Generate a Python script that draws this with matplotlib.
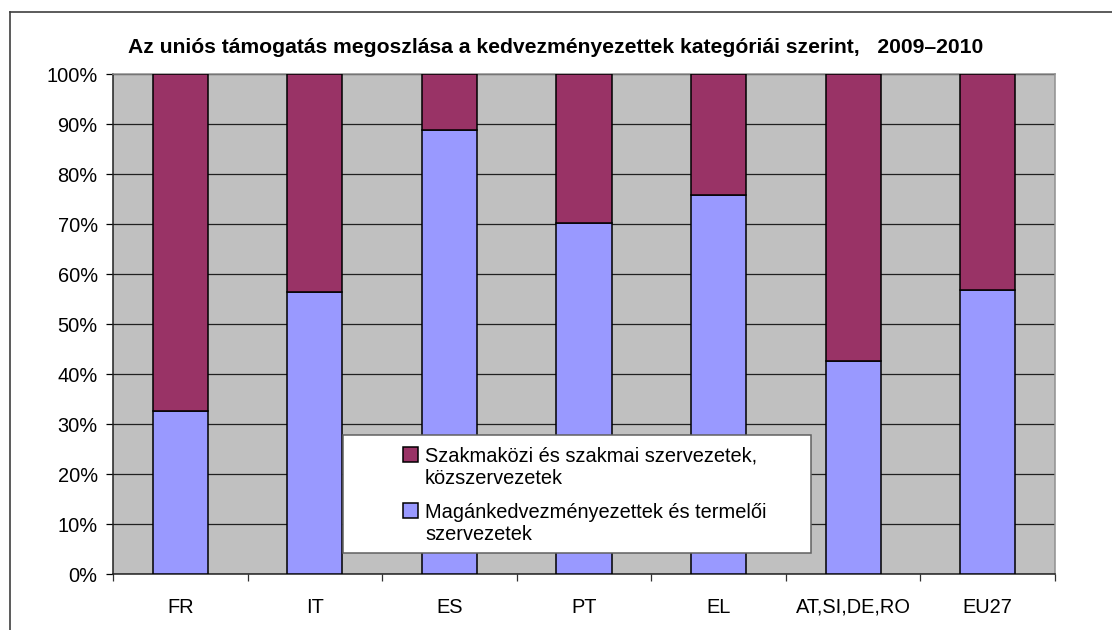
import matplotlib
matplotlib.use("Agg")
import matplotlib.pyplot as plt
import numpy as np
from matplotlib.patches import Rectangle
from matplotlib.lines import Line2D
from matplotlib.ticker import FixedLocator, PercentFormatter

plt.rcParams['font.family'] = ['Liberation Sans', 'DejaVu Sans']

categories = ['FR', 'IT', 'ES', 'PT', 'EL', 'AT,SI,DE,RO', 'EU27']
# shares in %
magan = [32.6, 56.4, 88.8, 70.2, 75.8, 42.6, 56.8]
szakma = [67.4, 43.6, 11.2, 29.8, 24.2, 57.4, 43.2]
labels = ['Szakmaközi és szakmai szervezetek,\nközszervezetek',
          'Magánkedvezményezettek és termelői\nszervezetek']
title = 'Az uniós támogatás megoszlása a kedvezményezettek kategóriái szerint,   2009–2010'

purple = '#993366'
blue = '#9999FF'
fs = 14.4

fig = plt.figure(figsize=(11.12, 6.3), dpi=100)
W, H = 1112, 630
ax = fig.add_axes([113 / W, 1 - 574 / H, 942 / W, 500 / H])
ax.set_facecolor('#C0C0C0')

x = np.arange(len(categories))
b1 = ax.bar(x, magan, width=0.41, color=blue, edgecolor='black', linewidth=1.1, zorder=3)
b2 = ax.bar(x, szakma, width=0.41, bottom=magan, color=purple, edgecolor='black',
            linewidth=1.1, zorder=3)

ax.set_xlim(-0.5, len(categories) - 0.5)
ax.set_ylim(0, 100)
ax.yaxis.set_major_locator(FixedLocator(np.arange(0, 101, 10)))
ax.yaxis.set_major_formatter(PercentFormatter(decimals=0))
ax.grid(axis='y', color='#202020', linewidth=0.9, zorder=1)
ax.set_axisbelow(True)

ax.xaxis.set_major_locator(FixedLocator(np.arange(-0.5, len(categories), 1)))
ax.xaxis.set_minor_locator(FixedLocator(x))
ax.set_xticklabels([], minor=False)
ax.set_xticklabels(categories, minor=True)
ax.tick_params(axis='x', which='major', direction='out', length=5, width=0.9, color='#303030')
ax.tick_params(axis='x', which='minor', length=0, pad=17, labelsize=fs)
ax.tick_params(axis='y', direction='out', length=5, width=0.9, pad=6, labelsize=fs)

for s in ['left', 'bottom']:
    ax.spines[s].set_color('#202020')
    ax.spines[s].set_linewidth(1.1)
for s in ['top', 'right']:
    ax.spines[s].set_color('#909090')
    ax.spines[s].set_linewidth(1.1)

# legend box
box_l, box_r, box_t, box_b = 343, 811, 435, 553
ax.add_patch(Rectangle(((box_l - 113) / 942, (574 - box_b) / 500),
                       (box_r - box_l) / 942, (box_b - box_t) / 500,
                       transform=ax.transAxes, facecolor='white', edgecolor='#606060',
                       linewidth=1.1, zorder=4))
leg = ax.legend([b2, b1], labels, loc='upper left',
                bbox_to_anchor=((393 - 113) / 942, (574 - 437) / 500),
                frameon=False, borderpad=0, fontsize=fs, handlelength=0.75,
                handleheight=0.75, handletextpad=0.35, labelspacing=0.75)
leg.set_zorder(5)
for item in leg._legend_handle_box.get_children()[0].get_children():
    item.align = 'top'

fig.text(0.5, 1 - 53 / H, title, ha='center', va='baseline', fontsize=15.2, fontweight='bold')

# outer chart border (top and left edges visible)
fig.add_artist(Line2D([10 / W, 1], [1 - 12 / H, 1 - 12 / H], transform=fig.transFigure,
                      color='#404040', linewidth=1.2))
fig.add_artist(Line2D([10 / W, 10 / W], [0, 1 - 12 / H], transform=fig.transFigure,
                      color='#404040', linewidth=1.2))

fig.savefig('out.png', dpi=100)
